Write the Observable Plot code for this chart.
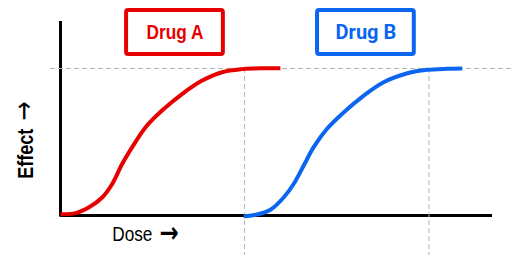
<!DOCTYPE html>
<html>
<head>
<meta charset="utf-8">
<script src="https://cdn.jsdelivr.net/npm/d3@7"></script>
<script src="https://cdn.jsdelivr.net/npm/@observablehq/plot@0.6"></script>
<style>
  html, body { margin: 0; padding: 0; background: #fff; }
  #chart svg { display: block; }
</style>
</head>
<body>
<div id="chart"></div>
<script>
// --- data ---
const drugNames = ["Drug A", "Drug B"];
const drugColors = ["#e60000", "#0a66f0"];
const doseA   = [0, 3.5, 6.6, 9.7, 12.0, 14.3, 16.6, 19.7, 23.5, 28.2, 32.8, 37.4, 42.1, 46.7, 50.9];
const effectA = [0.9, 1.6, 5.6, 12.4, 21.6, 35.2, 46.5, 60.1, 71.4, 82.8, 91.8, 97.5, 99.6, 100.2, 100.2];
const doseB   = [42.4, 45.5, 48.6, 51.7, 54.0, 56.3, 58.6, 61.7, 65.6, 70.2, 74.8, 80.3, 84.9, 89.5, 93.0];
const effectB = [-0.6, 0.7, 3.9, 12.4, 21.6, 34.0, 46.5, 59.0, 70.3, 81.6, 90.7, 96.8, 99.1, 99.8, 100];
const maxEffect = 100;
const plateauDose = [42.6, 85.3];
const labelDose = [26.5, 70.7];
const labelEffect = 124.5;
const labelHalfWidth = 11.2;
const labelHalfHeight = 15;
const xTitle = "Dose →";
const yTitle = "Effect →";

const seriesA = doseA.map((d, i) => ({dose: d, effect: effectA[i]}));
const seriesB = doseB.map((d, i) => ({dose: d, effect: effectB[i]}));
const labels = drugNames.map((n, i) => ({name: n, color: drugColors[i], dose: labelDose[i], effect: labelEffect}));

const arial = "'Liberation Sans', Arial, sans-serif";

const chart = Plot.plot({
  width: 511,
  height: 255,
  marginLeft: 60,
  marginRight: 19,
  marginTop: 21,
  marginBottom: 40,
  style: {background: "#fff", overflow: "visible"},
  x: {domain: [0, 100], axis: null},
  y: {domain: [0, 132], axis: null},
  marks: [
    // axis lines
    Plot.ruleX([0], {stroke: "#000", strokeWidth: 3, insetBottom: -1.5}),
    Plot.ruleY([0], {stroke: "#000", strokeWidth: 3}),
    // dashed guides
    Plot.ruleY([maxEffect], {stroke: "#b4b4b4", strokeWidth: 1, strokeDasharray: "5,3", insetLeft: -10, insetRight: -19}),
    Plot.ruleX(plateauDose, {y1: maxEffect, y2: 0, stroke: "#b4b4b4", strokeWidth: 1, strokeDasharray: "5,3", insetBottom: -40}),
    // curves
    Plot.line(seriesA, {x: "dose", y: "effect", stroke: drugColors[0], strokeWidth: 4, curve: "catmull-rom", strokeLinecap: "butt"}),
    Plot.line(seriesB, {x: "dose", y: "effect", stroke: drugColors[1], strokeWidth: 4, curve: "catmull-rom", strokeLinecap: "butt"}),
    // label boxes
    Plot.rect(labels, {
      x1: d => d.dose - labelHalfWidth, x2: d => d.dose + labelHalfWidth,
      y1: d => d.effect - labelHalfHeight, y2: d => d.effect + labelHalfHeight,
      fill: "#fff", stroke: d => d.color, strokeWidth: 4, rx: 2
    }),
    Plot.text([labels[0]], {x: "dose", y: "effect", text: "name", fill: d => d.color,
      fontFamily: arial, fontWeight: "bold", fontSize: 21, lineAnchor: "middle"}),
    Plot.text([labels[1]], {x: "dose", y: "effect", text: "name", fill: d => d.color,
      fontFamily: "Roboto, sans-serif", fontWeight: "bold", fontSize: 20, lineAnchor: "middle"}),
    // axis titles
    Plot.text([xTitle], {frameAnchor: "bottom-left", text: d => d, textAnchor: "start", lineAnchor: "bottom",
      dx: 51.7, dy: 25, fontFamily: arial, fontSize: 21, fill: "#000"}),
    Plot.text([yTitle], {frameAnchor: "bottom-left", text: d => d, textAnchor: "start", lineAnchor: "bottom",
      rotate: -90, dx: -27.3, dy: -36.7, fontFamily: arial, fontWeight: "bold", fontSize: 22, fill: "#000"})
  ]
});

// condense the Arial-style texts horizontally (reference uses a narrow face)
const condensed = new Set([drugNames[0], xTitle, yTitle]);
const arrowStyle = new Map([
  [xTitle, {weight: "bold", size: 28, gap: 3, shift: 1}],
  [yTitle, {weight: "normal", size: 28, gap: 4, shift: 0}]
]);
d3.select(chart).selectAll("text").each(function () {
  const content = this.textContent;
  if (condensed.has(content)) {
    const t = this.getAttribute("transform") || "";
    this.setAttribute("transform", (t + " scale(0.82,1)").trim());
  }
  if (arrowStyle.has(content)) {
    const st = arrowStyle.get(content);
    const cut = content.lastIndexOf(" ");
    this.textContent = content.slice(0, cut + 1);
    d3.select(this).append("tspan")
      .attr("font-family", "'DejaVu Sans', sans-serif")
      .attr("font-weight", st.weight)
      .attr("font-size", st.size)
      .attr("dx", st.gap)
      .attr("dy", st.shift)
      .text(content.slice(cut + 1));
  }
});

document.getElementById("chart").appendChild(chart);
</script>
</body>
</html>
